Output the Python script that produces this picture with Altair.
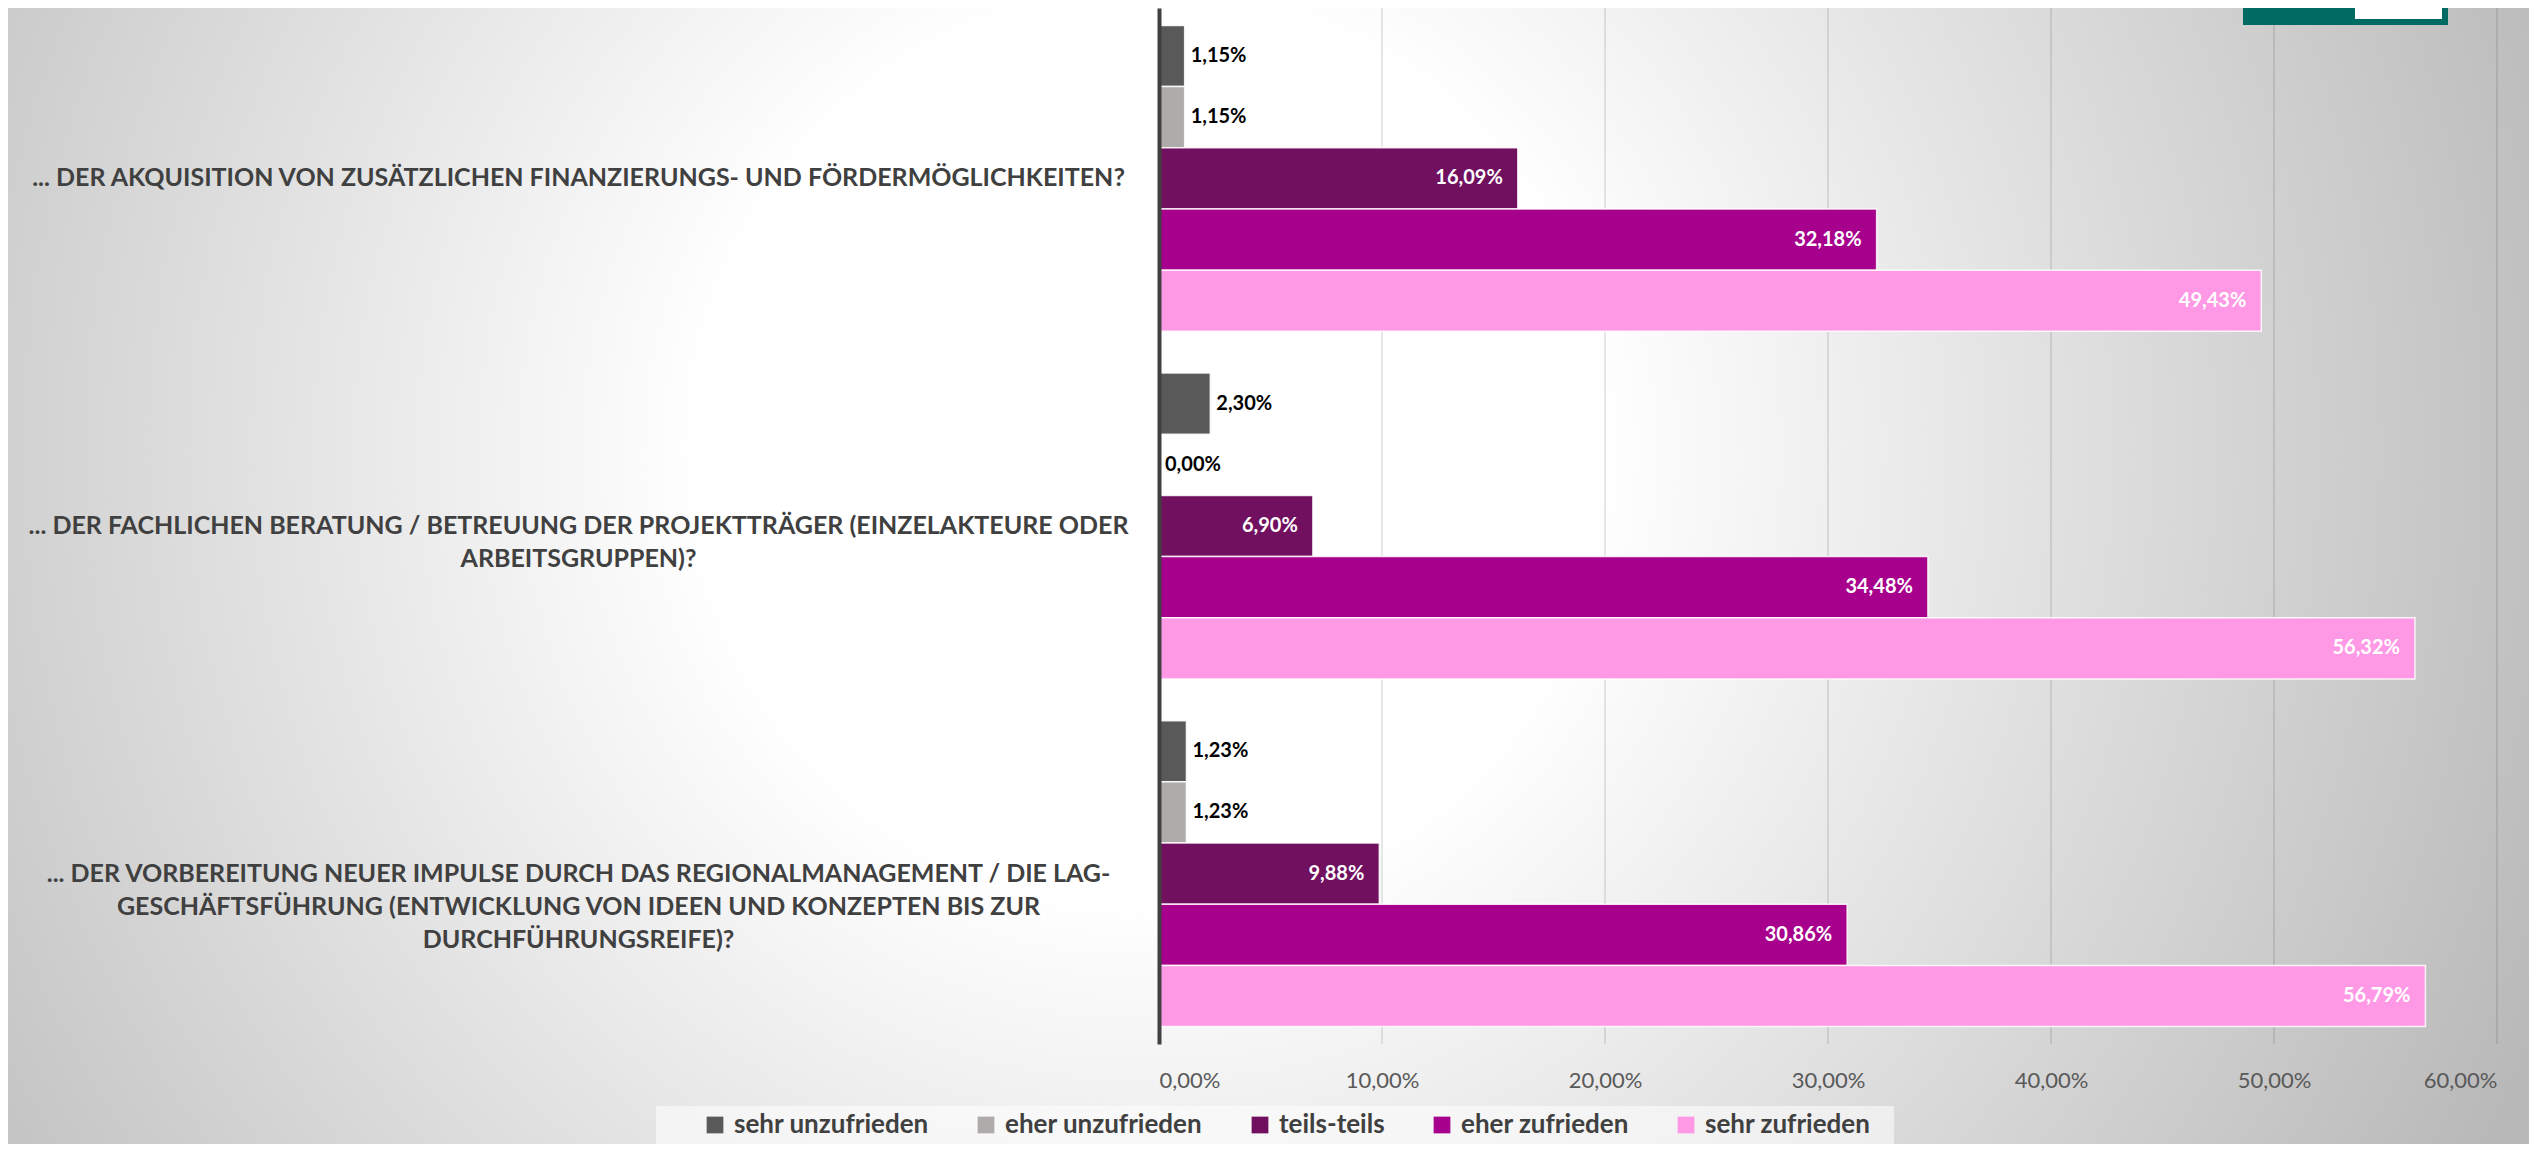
import altair as alt
import pandas as pd

# ---------------- data ----------------
categories = [
    "... DER AKQUISITION VON ZUSÄTZLICHEN FINANZIERUNGS- UND FÖRDERMÖGLICHKEITEN?",
    "... DER FACHLICHEN BERATUNG / BETREUUNG DER PROJEKTTRÄGER (EINZELAKTEURE ODER|ARBEITSGRUPPEN)?",
    "... DER VORBEREITUNG NEUER IMPULSE DURCH DAS REGIONALMANAGEMENT / DIE LAG-|GESCHÄFTSFÜHRUNG (ENTWICKLUNG VON IDEEN UND KONZEPTEN BIS ZUR|DURCHFÜHRUNGSREIFE)?",
]
series = ["sehr unzufrieden", "eher unzufrieden", "teils-teils", "eher zufrieden", "sehr zufrieden"]
sehr_unzufrieden = [1.15, 2.30, 1.23]
eher_unzufrieden = [1.15, 0.00, 1.23]
teils_teils = [16.09, 6.90, 9.88]
eher_zufrieden = [32.18, 34.48, 30.86]
sehr_zufrieden = [49.43, 56.32, 56.79]
outside_series = ["sehr unzufrieden", "eher unzufrieden"]
colors = ["#595959", "#AFABAB", "#70105F", "#A7008C", "#FF99E6"]
x_ticks = [0, 10, 20, 30, 40, 50, 60]

values_by_series = [sehr_unzufrieden, eher_unzufrieden, teils_teils, eher_zufrieden, sehr_zufrieden]
rows = []
for ci, cat in enumerate(categories):
    for si, s in enumerate(series):
        rows.append({"question": cat, "series": s, "value": values_by_series[si][ci]})
df = pd.DataFrame(rows)
grid_df = pd.DataFrame({"value": x_ticks[1:]})
one = pd.DataFrame({"a": [0]})

W, H = 1338, 1036
FONT = "Lato"

pct_expr = "replace(format(datum.value, '.2f'), '.', ',') + '%'"

# ---------------- background ----------------
bg = alt.Chart(one).mark_rect(
    fill={
        "gradient": "radial",
        "x1": 0.453, "y1": 0.453, "r1": 0.177,
        "x2": 0.453, "y2": 0.453, "r2": 0.591,
        "stops": [
            {"offset": 0, "color": "#ffffff"},
            {"offset": 1, "color": "#b9b9b9"},
        ],
    }
).encode(
    x=alt.value(-1159), x2=alt.value(1380),
    y=alt.value(-708), y2=alt.value(1831),
)

legend_band = alt.Chart(one).mark_rect(fill="white", opacity=0.55).encode(
    x=alt.value(-503), x2=alt.value(735),
    y=alt.value(1098), y2=alt.value(1150),
)

grid = alt.Chart(grid_df).mark_rule(color="black", opacity=0.16, strokeWidth=1.2).encode(
    x=alt.X("value:Q"),
    y=alt.value(0), y2=alt.value(H),
)

y_enc = alt.Y(
    "question:N", sort=categories,
    scale=alt.Scale(paddingInner=0.12, paddingOuter=0.05),
    axis=alt.Axis(
        title=None, labelExpr="split(datum.label, '|')",
        labelAlign="center", labelBaseline="middle", labelPadding=581,
        labelLimit=1300, labelFont=FONT, labelFontSize=25, labelFontWeight="bold",
        labelColor="#404040", labelLineHeight=33, ticks=False, tickSize=0,
        domain=True, domainColor="#404040", domainWidth=4, grid=False, zindex=1,
    ),
)
yoff = alt.YOffset("series:N", sort=series, scale=alt.Scale(paddingInner=0, paddingOuter=0))
x_enc = alt.X(
    "value:Q", scale=alt.Scale(domain=[0, 60], nice=False, zero=True),
    axis=alt.Axis(
        title=None, values=x_ticks, labelExpr=pct_expr, grid=False, domain=False,
        ticks=False, tickSize=0, labelPadding=26, labelFont=FONT, labelFontSize=22,
        labelColor="#595959", zindex=1,
    ),
)

bars = alt.Chart(df).mark_bar(stroke="white", strokeWidth=1.5, strokeOpacity=0.85).encode(
    x=x_enc, y=y_enc, yOffset=yoff,
    color=alt.Color(
        "series:N", sort=series,
        scale=alt.Scale(domain=series, range=colors),
        legend=alt.Legend(
            title=None, orient="none", legendX=-457, legendY=1104, direction="horizontal",
            symbolType="square", symbolSize=280, symbolStrokeWidth=0,
            labelFont=FONT, labelFontSize=26, labelFontWeight="bold", labelColor="#404040",
            labelLimit=500, columnPadding=44, gridAlign="each", labelOffset=6,
        ),
    ),
)

label_base = alt.Chart(df).transform_calculate(
    lbl="replace(format(datum.value, '.2f'), '.', ',') + '%'"
)
txt_out = label_base.transform_filter(
    alt.FieldOneOfPredicate(field="series", oneOf=outside_series)
).mark_text(align="left", baseline="middle", dx=6, font=FONT, fontSize=20,
            fontWeight="bold", color="black").encode(
    x="value:Q", y=alt.Y("question:N", sort=categories), yOffset=yoff, text="lbl:N",
)
txt_in = label_base.transform_filter(
    {"not": alt.FieldOneOfPredicate(field="series", oneOf=outside_series)}
).mark_text(align="right", baseline="middle", dx=-15, font=FONT, fontSize=20,
            fontWeight="bold", color="white").encode(
    x="value:Q", y=alt.Y("question:N", sort=categories), yOffset=yoff, text="lbl:N",
)

logo = alt.Chart(one).mark_rect(fill="#006B63").encode(
    x=alt.value(1084), x2=alt.value(1289), y=alt.value(0), y2=alt.value(17),
)
logo_white = alt.Chart(one).mark_rect(fill="white").encode(
    x=alt.value(1196), x2=alt.value(1283), y=alt.value(0), y2=alt.value(11),
)

chart = alt.layer(bg, legend_band, grid, bars, txt_out, txt_in, logo, logo_white).properties(
    width=W, height=H,
    autosize=alt.AutoSizeParams(type="none"),
    padding={"left": 1151, "top": 0, "right": 32, "bottom": 100},
).configure_view(stroke=None).configure(background="white")

chart.save("out.html", embed_options={"renderer": "svg", "actions": False})
